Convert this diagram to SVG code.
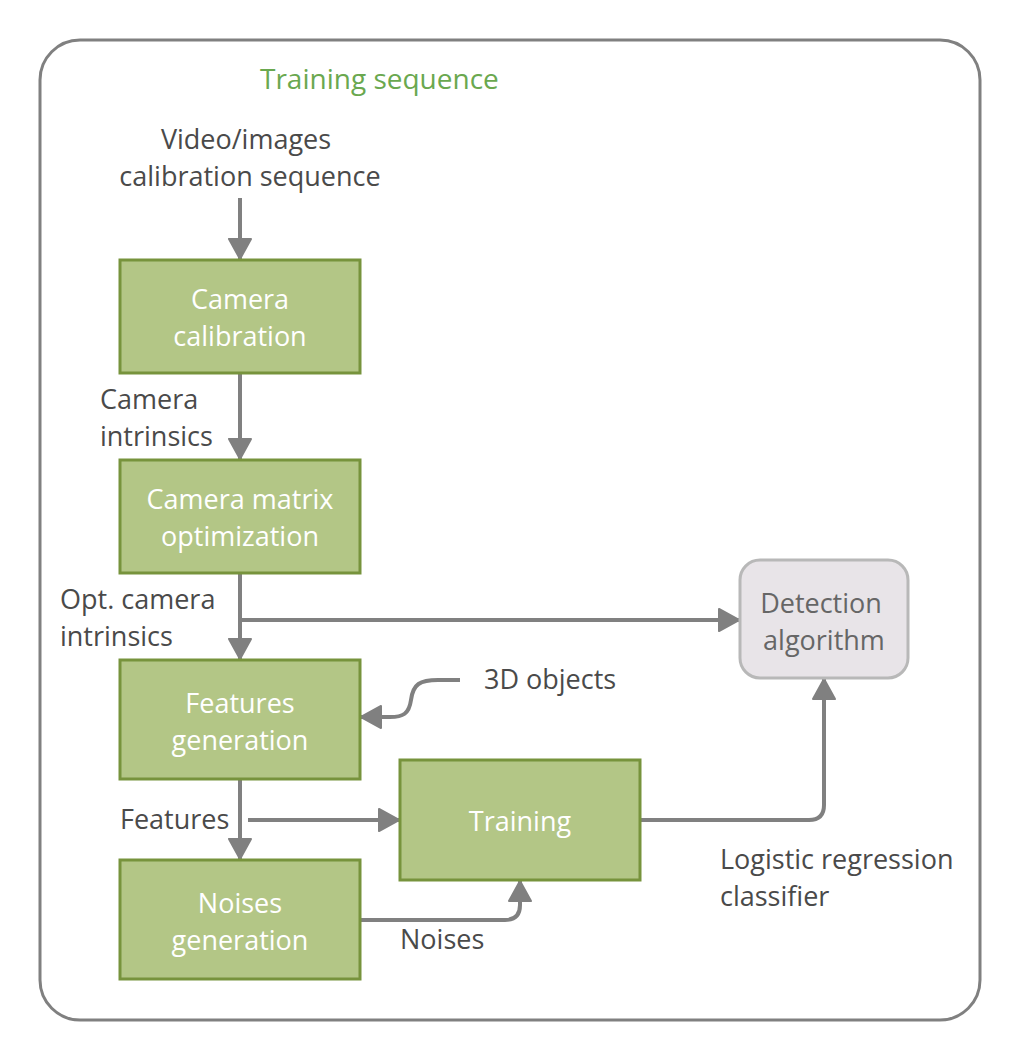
<svg xmlns="http://www.w3.org/2000/svg" width="1023" height="1060" viewBox="0 0 1023 1060">
<style>
text{font-family:"Open Sans","Noto Sans","DejaVu Sans",sans-serif;font-size:27px}
.lbl{fill:#4a4a4a}
.nt{fill:#ffffff;text-anchor:middle}
.box{fill:#b3c686;stroke:#77933c;stroke-width:3}
.conn{fill:none;stroke:#808080;stroke-width:4}
</style>
<defs>
<marker id="ah" markerUnits="userSpaceOnUse" markerWidth="24" markerHeight="26" refX="22" refY="13" orient="auto">
<path d="M2,2 L22,13 L2,24 Z" fill="#808080" stroke="#808080" stroke-width="2" stroke-linejoin="round"/>
</marker>
</defs>
<rect x="40" y="40" width="940" height="980" rx="40" fill="#ffffff" stroke="#808080" stroke-width="3"/>
<text x="260" y="89" style="fill:#6aa84f;font-size:28px">Training sequence</text>
<g id="connectors">
<path class="conn" d="M240,198 V259" marker-end="url(#ah)"/>
<path class="conn" d="M240,374 V459" marker-end="url(#ah)"/>
<path class="conn" d="M240,574 V659" marker-end="url(#ah)"/>
<path class="conn" d="M240,620 H739" marker-end="url(#ah)"/>
<path class="conn" d="M460,680 H438 C420,680 413,684 411,700 C409,714 403,717 390,717 H361" marker-end="url(#ah)"/>
<path class="conn" d="M240,780 V859" marker-end="url(#ah)"/>
<path class="conn" d="M248,820 H399" marker-end="url(#ah)"/>
<path class="conn" d="M361,920 H505 Q520,920 520,905 V881" marker-end="url(#ah)"/>
<path class="conn" d="M641,820 H809 Q824,820 824,805 V679" marker-end="url(#ah)"/>
</g>
<g id="camera-calibration">
<rect class="box" x="120" y="260" width="240" height="113"/>
<text class="nt" x="240" y="309">Camera</text>
<text class="nt" x="240" y="346">calibration</text>
</g>
<g id="camera-matrix">
<rect class="box" x="120" y="460" width="240" height="113"/>
<text class="nt" x="240" y="509">Camera matrix</text>
<text class="nt" x="240" y="546">optimization</text>
</g>
<g id="features-generation">
<rect class="box" x="120" y="660" width="240" height="119"/>
<text class="nt" x="240" y="713">Features</text>
<text class="nt" x="240" y="750">generation</text>
</g>
<g id="noises-generation">
<rect class="box" x="120" y="860" width="240" height="119"/>
<text class="nt" x="240" y="913">Noises</text>
<text class="nt" x="240" y="950">generation</text>
</g>
<g id="training">
<rect class="box" x="400" y="760" width="240" height="120"/>
<text class="nt" x="520" y="831">Training</text>
</g>
<g id="detection-algorithm">
<rect x="740" y="560" width="168" height="118" rx="20" fill="#e8e4e8" stroke="#b8b8b8" stroke-width="3"/>
<text x="821" y="613" style="fill:#666666;text-anchor:middle">Detection</text>
<text x="824" y="650" style="fill:#666666;text-anchor:middle">algorithm</text>
</g>
<g id="labels">
<text class="lbl" x="246" y="149" text-anchor="middle">Video/images</text>
<text class="lbl" x="250" y="186" text-anchor="middle">calibration sequence</text>
<text class="lbl" x="100" y="409">Camera</text>
<text class="lbl" x="100" y="446">intrinsics</text>
<text class="lbl" x="60" y="609">Opt. camera</text>
<text class="lbl" x="60" y="646">intrinsics</text>
<text class="lbl" x="484" y="689">3D objects</text>
<text class="lbl" x="120" y="829">Features</text>
<text class="lbl" x="400" y="949">Noises</text>
<text class="lbl" x="720" y="869">Logistic regression</text>
<text class="lbl" x="720" y="906">classifier</text>
</g>
</svg>
